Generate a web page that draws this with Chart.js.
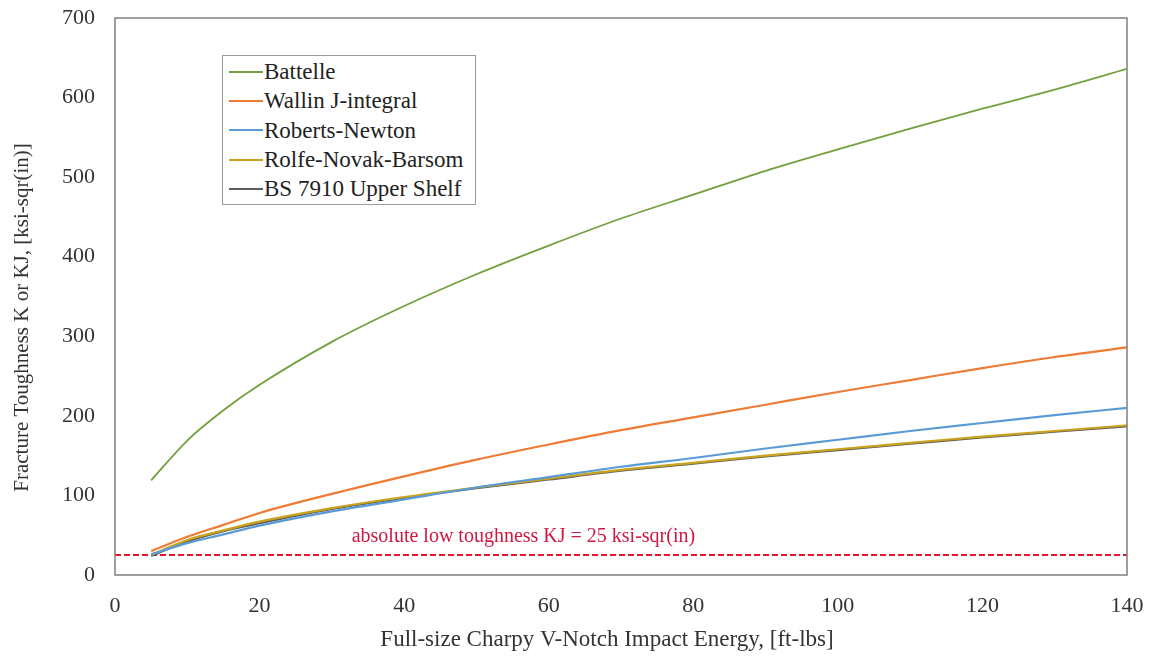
<!DOCTYPE html>
<html>
<head>
<meta charset="utf-8">
<script src="https://cdn.jsdelivr.net/npm/chart.js@4/dist/chart.umd.min.js"></script>
<style>
  html, body { margin: 0; padding: 0; background: #ffffff; }
  #wrap { position: relative; width: 1151px; height: 657px; }
  #legend {
    position: absolute; left: 222px; top: 55px; width: 254px; height: 150px;
    border: 1px solid #9a9a9a; background: #fff; box-sizing: border-box;
    font-family: 'Liberation Serif', serif; font-size: 23px; color: #222;
    padding-top: 1px;
  }
  .row { height: 29.3px; line-height: 29.3px; white-space: nowrap; display: flex; align-items: center; }
  .swatch { display: inline-block; width: 34px; height: 2px; margin-left: 6px; margin-right: 1px; }
</style>
</head>
<body>
<div id="wrap">
  <canvas id="c" width="1151" height="657"></canvas>
  <div id="legend"></div>
</div>
<script>
// ---- data ----
const cvn      = [5, 10, 15, 20, 30, 40, 50, 60, 70, 80, 90, 100, 110, 120, 130, 140];
const battelle = [119, 169, 207, 239, 293, 338, 378, 414, 448, 478, 508, 535, 561, 586, 610, 636];
const wallin   = [30, 48, 63, 78, 102, 124, 145, 164, 182, 198, 214, 230, 245, 260, 274, 286];
const roberts  = [26, 40, 51, 62, 80, 95, 110, 123, 136, 147, 159, 170, 181, 191, 201, 210];
const rolfe    = [25, 44, 56, 67, 84, 98, 110, 121, 132, 141, 150, 158, 166, 174, 181, 188];
const bs7910   = [24, 42, 55, 65, 83, 97, 109, 120, 131, 140, 149, 157, 165, 173, 180, 187];
const lowToughnessX = [0, 140];
const lowToughness  = [25, 25];
const xTicks = [0, 20, 40, 60, 80, 100, 120, 140];
const yTicks = [0, 100, 200, 300, 400, 500, 600, 700];
const seriesNames = ['Battelle', 'Wallin J-integral', 'Roberts-Newton', 'Rolfe-Novak-Barsom', 'BS 7910 Upper Shelf'];
const seriesColors = ['#72a03e', '#ef7b35', '#5b9bd5', '#c9a31c', '#5e5e5e'];
const annotationText = 'absolute low toughness KJ = 25 ksi-sqr(in)';
const xTitle = 'Full-size Charpy V-Notch Impact Energy, [ft-lbs]';
const yTitle = 'Fracture Toughness K or KJ, [ksi-sqr(in)]';

const FONT = "'Liberation Serif', serif";
const pts = (xs, ys) => xs.map((x, i) => ({ x: x, y: ys[i] }));
const seriesValues = [battelle, wallin, roberts, rolfe, bs7910];

const datasets = seriesValues.map((vals, i) => ({
  label: seriesNames[i],
  data: pts(cvn, vals),
  borderColor: seriesColors[i],
  backgroundColor: seriesColors[i],
  borderWidth: i === 0 ? 1.8 : 2.2,
  pointRadius: 0,
  cubicInterpolationMode: 'monotone',
  fill: false
}));
datasets.push({
  label: 'low',
  data: pts(lowToughnessX, lowToughness),
  borderColor: '#e3122e',
  borderWidth: 2,
  borderDash: [6, 3],
  pointRadius: 0,
  fill: false
});

const framePlugin = {
  id: 'frame',
  afterDatasetsDraw(chart) {
    const { ctx, chartArea: a, scales } = chart;
    ctx.save();
    ctx.strokeStyle = '#7f7f7f';
    ctx.lineWidth = 1.5;
    ctx.strokeRect(a.left, a.top, a.right - a.left, a.bottom - a.top);
    ctx.fillStyle = '#cf1740';
    ctx.font = "20px " + FONT;
    ctx.textAlign = 'center';
    ctx.textBaseline = 'middle';
    ctx.fillText(annotationText, scales.x.getPixelForValue(56.5), scales.y.getPixelForValue(48));
    // axis titles (placed like the original, slightly off the plot centre)
    ctx.fillStyle = '#333';
    ctx.font = "23px " + FONT;
    ctx.fillText(xTitle, (a.left + a.right) / 2 - 14, 640);
    ctx.font = "21px " + FONT;
    ctx.translate(22, (a.top + a.bottom) / 2 + 21);
    ctx.rotate(-Math.PI / 2);
    ctx.fillText(yTitle, 0, 0);
    ctx.restore();
  }
};

function zeroPad(s) { s.paddingTop = 0; s.paddingBottom = 0; s.paddingLeft = 0; s.paddingRight = 0; }

new Chart(document.getElementById('c'), {
  type: 'line',
  data: { datasets },
  options: {
    responsive: false,
    animation: false,
    layout: { padding: { top: 18, right: 24, left: 0, bottom: 0 } },
    plugins: { legend: { display: false }, tooltip: { enabled: false } },
    scales: {
      x: {
        type: 'linear', min: xTicks[0], max: xTicks[xTicks.length - 1],
        afterBuildTicks(s) { s.ticks = xTicks.map(v => ({ value: v })); },
        afterFit(s) { s.height = 82; zeroPad(s); },
        grid: { display: false, drawTicks: false },
        border: { display: false },
        ticks: { color: '#333', font: { family: FONT, size: 22 }, padding: 18, maxRotation: 0 },
        title: { display: false }
      },
      y: {
        type: 'linear', min: yTicks[0], max: yTicks[yTicks.length - 1],
        afterBuildTicks(s) { s.ticks = yTicks.map(v => ({ value: v })); },
        afterFit(s) { s.width = 115; zeroPad(s); },
        grid: { display: false, drawTicks: false },
        border: { display: false },
        ticks: { color: '#333', font: { family: FONT, size: 22 }, padding: 20 },
        title: { display: false }
      }
    }
  },
  plugins: [framePlugin]
});

// HTML legend built from the series arrays
const lg = document.getElementById('legend');
seriesNames.forEach((n, i) => {
  const row = document.createElement('div');
  row.className = 'row';
  const sw = document.createElement('span');
  sw.className = 'swatch';
  sw.style.background = seriesColors[i];
  const t = document.createElement('span');
  t.textContent = n;
  row.appendChild(sw); row.appendChild(t);
  lg.appendChild(row);
});
</script>
</body>
</html>
